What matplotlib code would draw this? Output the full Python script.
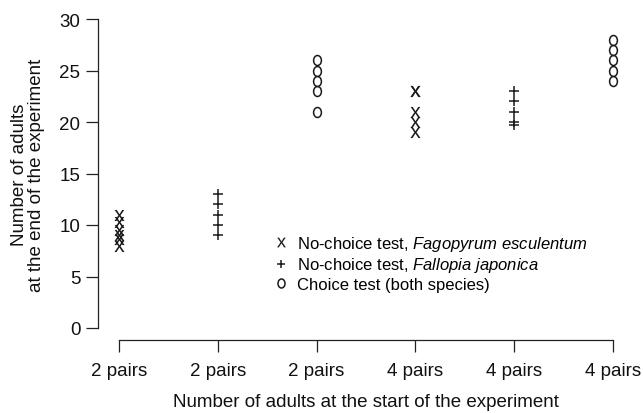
import matplotlib
matplotlib.use("Agg")
import matplotlib.pyplot as plt
from matplotlib.lines import Line2D
from matplotlib.path import Path
from matplotlib.transforms import Affine2D

plt.rcParams['font.family'] = ['Liberation Sans', 'DejaVu Sans']
plt.rcParams['mathtext.fontset'] = 'custom'
plt.rcParams['mathtext.rm'] = 'Liberation Sans'
plt.rcParams['mathtext.sf'] = 'Liberation Sans'
plt.rcParams['mathtext.it'] = 'Liberation Sans:italic'

# ---- data ----
tick_labels = ["2 pairs", "2 pairs", "2 pairs", "4 pairs", "4 pairs", "4 pairs"]
group_pos = [1, 2, 3, 4, 5, 6]
fagopyrum_2 = [11, 10.3, 9.5, 9, 8.6, 8]
fallopia_2 = [13, 12, 11, 10, 9]
choice_2 = [26, 25, 24, 23, 21]
fagopyrum_4 = [23, 23, 21, 20, 19]
fallopia_4 = [23, 22, 21, 20, 19.7]
choice_4 = [28, 27, 26, 25, 24]
y_ticks = [0, 5, 10, 15, 20, 25, 30]
legend_labels = [
    r"No-choice test, $\mathit{Fagopyrum\ esculentum}$",
    r"No-choice test, $\mathit{Fallopia\ japonica}$",
    "Choice test (both species)",
]

W, H = 643, 414
fig = plt.figure(figsize=(W / 100, H / 100), dpi=100)
ax = fig.add_axes([98 / W, (H - 329) / H, 535 / W, 309 / H])

col = '#1a1a1a'
oval = Path.unit_circle().transformed(Affine2D().scale(0.78, 1.0))

styles = {
    'x': dict(marker=r'$\mathsf{x}$', markersize=8, markeredgewidth=0),
    '+': dict(marker='+', markersize=7, markeredgewidth=1.1),
    'o': dict(marker=oval, markersize=7.2, markeredgewidth=1.1, fillstyle='none'),
}

series = [
    (group_pos[0], fagopyrum_2, 'x'),
    (group_pos[1], fallopia_2, '+'),
    (group_pos[2], choice_2, 'o'),
    (group_pos[3], fagopyrum_4, 'x'),
    (group_pos[4], fallopia_4, '+'),
    (group_pos[5], choice_4, 'o'),
]
for xpos, vals, key in series:
    ax.plot([xpos] * len(vals), vals, linestyle='none', color=col,
            clip_on=False, **styles[key])

ax.set_xlim(1 - 21 / 98.8, 6 + 20 / 98.8)
ax.set_ylim(0, 30)
ax.set_xticks(group_pos)
ax.set_xticklabels(tick_labels)
ax.set_yticks(y_ticks)

for s in ['top', 'right']:
    ax.spines[s].set_visible(False)
ax.spines['left'].set_bounds(0, 30)
ax.spines['bottom'].set_bounds(1, 6)
ax.spines['bottom'].set_position(('outward', 8.6))
for s in ['left', 'bottom']:
    ax.spines[s].set_linewidth(0.9)
    ax.spines[s].set_color('#222222')
ax.tick_params(axis='both', direction='out', length=8.6, width=0.9,
               color='#222222', labelsize=13.5, labelcolor='#111111')
ax.tick_params(axis='x', pad=7)
ax.tick_params(axis='y', pad=4)

fig.text(28 / W, 1 - 175 / H, "Number of adults\nat the end of the experiment",
         rotation=90, ha='center', va='center', fontsize=13.5,
         linespacing=1.02, color='#111111')
fig.text(366 / W, 1 - 403 / H, "Number of adults at the start of the experiment",
         ha='center', va='center', fontsize=13.5, color='#111111')

legend_sizes = {'x': 7, '+': 6, 'o': 6.5}
handles = []
for key in ['x', '+', 'o']:
    st = dict(styles[key])
    st['markersize'] = legend_sizes[key]
    handles.append(Line2D([], [], linestyle='none', color=col, **st))
ax.legend(handles, legend_labels, loc='upper left',
          bbox_to_anchor=(274 / W, 1 - 235 / H), bbox_transform=fig.transFigure,
          frameon=False, fontsize=12, handlelength=0.8, handletextpad=0.6,
          labelspacing=0.15, borderpad=0, borderaxespad=0)

fig.savefig("out.png", dpi=100)
